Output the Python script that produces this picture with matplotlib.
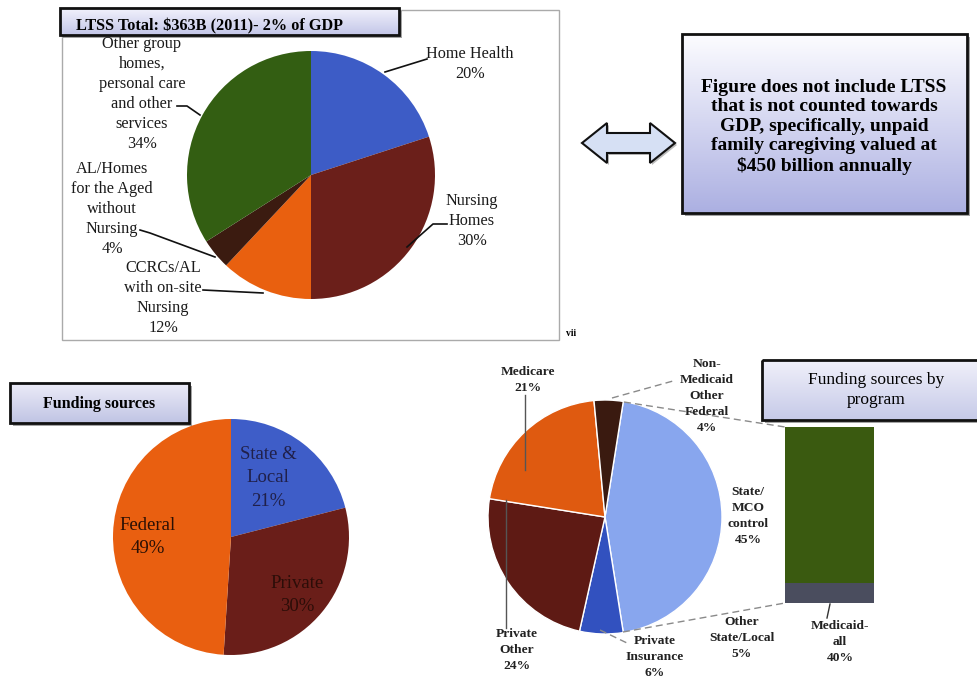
import numpy as np
import matplotlib
matplotlib.use("Agg")
import matplotlib.pyplot as plt
from matplotlib.patches import Rectangle, Polygon

plt.rcParams['font.family'] = ['Liberation Serif', 'DejaVu Serif']

W, H = 978, 680

# LTSS spending by setting (2011)
ltss_labels = ["Home Health\n20%", "Nursing\nHomes\n30%", "CCRCs/AL\nwith on-site\nNursing\n12%",
               "AL/Homes\nfor the Aged\nwithout\nNursing\n4%",
               "Other group\nhomes,\npersonal care\nand other\nservices\n34%"]
ltss_values = [20, 30, 12, 4, 34]
ltss_colors = ["#3d5cc6", "#6b1f1a", "#e9600f", "#3b1b10", "#335e12"]

# funding sources
fund_labels = ["State &\nLocal\n21%", "Private\n30%", "Federal\n49%"]
fund_values = [21, 30, 49]
fund_colors = ["#3e5dc8", "#6a1e19", "#e95f10"]

# funding sources by program
prog_labels = ["State/\nMCO\ncontrol\n45%", "Private\nInsurance\n6%", "Private\nOther\n24%",
               "Medicare\n21%", "Non-\nMedicaid\nOther\nFederal\n4%"]
prog_values = [45, 6, 24, 21, 4]
prog_colors = ["#88a6ee", "#3251bf", "#5e1a14", "#df5a10", "#3a1a10"]

# split of the State/MCO slice
split_labels = ["Other\nState/Local\n5%", "Medicaid-\nall\n40%"]
split_values = [5, 40]
split_colors = ["#4a4d5e", "#3a5a10"]

fig = plt.figure(figsize=(W / 100, H / 100), dpi=100)
fig.patch.set_facecolor("white")


def pie_axes(cx, cy, r):
    a = fig.add_axes([(cx - r) / W, 1 - (cy + r) / H, 2 * r / W, 2 * r / H])
    return a


def finish_pie(a):
    a.set_xlim(-1, 1)
    a.set_ylim(-1, 1)
    a.set_aspect("equal")
    a.axis("off")


# top pie
ax1 = pie_axes(311, 175, 124)
ax1.pie(ltss_values, colors=ltss_colors, startangle=90, counterclock=False, radius=1,
        wedgeprops=dict(linewidth=0))
finish_pie(ax1)

# bottom left pie
ax2 = pie_axes(231, 537, 118)
ax2.pie(fund_values, colors=fund_colors, startangle=90, counterclock=False, radius=1,
        wedgeprops=dict(linewidth=0))
finish_pie(ax2)

# bottom right pie
ax3 = pie_axes(605, 517, 117)
ax3.pie(prog_values, colors=prog_colors, startangle=81, counterclock=False, radius=1,
        wedgeprops=dict(linewidth=1, edgecolor="white"))
finish_pie(ax3)

# bar that breaks the State/MCO slice down
axb = fig.add_axes([785 / W, 1 - 603 / H, 89 / W, 176 / H])
bottom = 0
for v, c in zip(split_values, split_colors):
    axb.bar(0.5, v, bottom=bottom, width=1, color=c, edgecolor="none")
    bottom += v
axb.set_xlim(0, 1)
axb.set_ylim(0, sum(split_values))
axb.axis("off")

# overlay in pixel coordinates for boxes, lines and text
ax = fig.add_axes([0, 0, 1, 1])
ax.patch.set_alpha(0)


def grad_box(x0, y0, x1, y1, top, bot, lw=2):
    ax.add_patch(Rectangle((x0 + 3, y0 + 3), x1 - x0, y1 - y0, fc="#666666", ec="none",
                           alpha=0.6, zorder=1))
    g = np.linspace(0, 1, 64)[:, None, None]
    img = (1 - g) * np.array(top) / 255 + g * np.array(bot) / 255
    ax.imshow(img, extent=(x0, x1, y1, y0), aspect="auto", zorder=2, interpolation="bilinear")
    ax.add_patch(Rectangle((x0, y0), x1 - x0, y1 - y0, fill=False, ec="#111111", lw=lw, zorder=3))


# frame around the top chart
ax.add_patch(Rectangle((62, 10), 497, 330, fill=False, ec="#aaaaaa", lw=1, zorder=1))
ax.text(566, 334, "vii", fontsize=7, fontweight="bold", ha="left", va="center")

grad_box(60, 8, 399, 35, (242, 242, 252), (195, 198, 232))
ax.text(209, 26, "LTSS Total: $363B (2011)- 2% of GDP", fontsize=11.7, fontweight="bold",
        ha="center", va="center", zorder=4)

grad_box(682, 34, 967, 213, (252, 252, 255), (172, 176, 226))
ax.text(824, 127, "Figure does not include LTSS\nthat is not counted towards\nGDP, specifically, unpaid\n"
        "family caregiving valued at\n$450 billion annually", fontsize=14, fontweight="bold",
        ha="center", va="center", linespacing=1.2, zorder=4)

# double arrow
arrow_pts = [(582, 143), (607, 123), (607, 133), (650, 133), (650, 123), (675, 143),
             (650, 163), (650, 153), (607, 153), (607, 163)]
ax.add_patch(Polygon([(x + 2, y + 2) for x, y in arrow_pts], closed=True, fc="#777777",
                     ec="none", alpha=0.5, zorder=1))
ax.add_patch(Polygon(arrow_pts, closed=True, fc="#d6e0f4", ec="#111111", lw=1.5, zorder=2))

grad_box(10, 383, 189, 423, (236, 236, 248), (192, 196, 228))
ax.text(99, 404, "Funding sources", fontsize=11.5, fontweight="bold", ha="center", va="center", zorder=4)

grad_box(762, 360, 990, 420, (240, 240, 250), (198, 202, 232))
ax.text(876, 390, "Funding sources by\nprogram", fontsize=12.5, ha="center", va="center",
        linespacing=1.25, zorder=4)

# top pie labels and leader lines
top_pos = [(470, 64), (472, 221), (163, 298), (112, 209), (142, 94)]
top_lines = [[(427, 59), (385, 72)],
             [(447, 224), (433, 224), (407, 247)],
             [(203, 290), (263, 293)],
             [(140, 230), (150, 233), (215, 257)],
             [(177, 106), (187, 106), (200, 115)]]
for lab, (x, y), pts in zip(ltss_labels, top_pos, top_lines):
    ax.text(x, y, lab, fontsize=11.7, ha="center", va="center", linespacing=1.33, color="#1a1a1a")
    xs, ys = zip(*pts)
    ax.plot(xs, ys, color="#111111", lw=1.2)

# bottom left labels inside slices
fund_pos = [(268, 478), (297, 595), (148, 537)]
fund_text = ["#20204a", "#2c0d08", "#2a1005"]
for lab, (x, y), c in zip(fund_labels, fund_pos, fund_text):
    ax.text(x, y, lab, fontsize=13.5, ha="center", va="center", linespacing=1.5, color=c)

# bottom right labels
prog_pos = [(748, 516), (655, 657), (517, 650), (528, 380), (707, 396)]
for lab, (x, y) in zip(prog_labels, prog_pos):
    ax.text(x, y, lab, fontsize=9.7, fontweight="bold", ha="center", va="center",
            linespacing=1.45, color="#222222")
split_pos = [(742, 638), (840, 642)]
for lab, (x, y) in zip(split_labels, split_pos):
    ax.text(x, y, lab, fontsize=9.7, fontweight="bold", ha="center", va="center",
            linespacing=1.45, color="#222222")

# leader and connector lines
ax.plot([525, 525], [395, 470], color="#555555", lw=1)
ax.plot([506, 506], [500, 628], color="#555555", lw=1)
ax.plot([830, 827], [604, 618], color="#333333", lw=1)
dash = dict(color="#8a8a8a", lw=1, ls=(0, (5, 3)))
ax.plot([612, 673], [398, 381], **dash)
ax.plot([600, 627], [630, 643], **dash)
ax.plot([624, 785], [402, 427], **dash)
ax.plot([623, 785], [632, 603], **dash)

ax.set_xlim(0, W)
ax.set_ylim(H, 0)
ax.axis("off")

fig.savefig("out.png", dpi=100)
